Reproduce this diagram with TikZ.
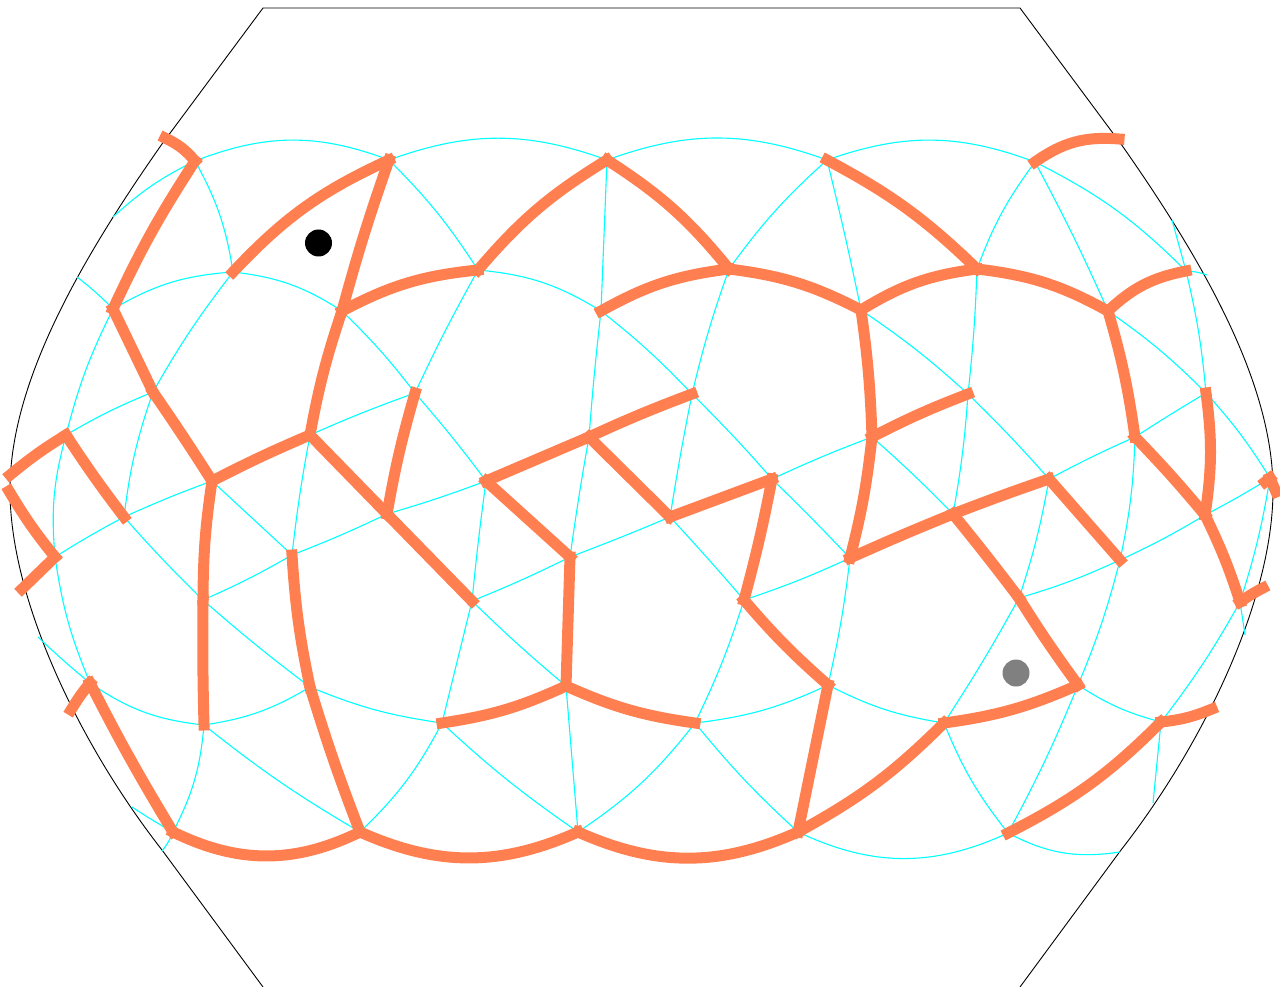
\documentclass[tikz,border=0pt]{standalone}
\definecolor{coral}{HTML}{FF7F50}
\definecolor{netcyan}{HTML}{00FFFF}
\tikzset{
  hull/.style={draw=black,line width=0.9pt,line join=round},
  net/.style={draw=netcyan,line width=1.1pt},
  wall/.style={draw=coral,line width=11pt,line cap=rect},
  dot/.style={circle,inner sep=0pt,minimum size=27pt}
}
\begin{document}
\begin{tikzpicture}[x=1pt,y=-1pt]
\useasboundingbox (0,0) rectangle (1280,987);
\foreach \n/\x/\y in {
 A1/195/161,A2/389/160,A3/607/160,A4/827/160,A5/1035/162,
 B1/233/272,B2/478/270,B3/729/269,B4/977/269,B5/1186/271,
 C1/113/309,C2/342/311,C3/601/311,C4/861/310,C5/1108/311,
 D1/153/392,D2/415/393,D3/692/394,D4/968/394,D5/1206/393,
 E1/66/435,E2/310/435,E3/589/437,E4/872/437,E5/1135/437,
 F1/212/481,F2/486/481,F3/772/479,F4/1049/479,F5/1270/478,
 G1/124/517,G2/387/514,G3/670/517,G4/953/514,G5/1205/515,
 H1/55/557,H2/292/555,H3/570/557,H4/850/558,H5/1120/560,
 I1/203/600,I2/472/601,I3/744/600,I4/1019/598,I5/1240/602,
 J1/90/683,J2/310/687,J3/566/686,J4/828/685,J5/1078/685,
 K1/204/725,K2/442/723,K3/695/723,K4/944/723,K5/1161/722,
 L1/173/832,L2/360/832,L3/578/832,L4/798/832,L5/1008/833,
 % free ends of orange lines
 oa/165/138,ob/1119/139,oc/10/475,od/9/491,oe/22/589,of/71/710,
 og/1212/709,oh/1263/588,oi/1276/492,oj/1265/482,
 % free ends of cyan lines
 ca/113/217,cb/77/277,cc/38/637,cd/132/807,ce/162/851,cf/1120/852,
 cg/1153/803,ch/1245/635,ci/1172/220,cj/1207/275
}{\coordinate (\n) at (\x,\y);}
% outer outline
\draw[hull] (263,987) -- (162,850) .. controls (80,745) and (10,600) .. (10,490)
  .. controls (10,390) and (70,275) .. (162,144) -- (263,8) -- (1020,8) -- (1121,144)
  .. controls (1213,275) and (1273,390) .. (1273,490)
  .. controls (1273,600) and (1203,745) .. (1121,850) -- (1020,987);
% cyan net
\foreach \a/\b/\t in {
 ca/A1/8,A1/A2/21,A2/A3/20,A3/A4/20,A4/A5/20,A5/B5/9,B5/cj/8,ci/B5/0,B5/D5/4,
 cb/C1/4,C1/B1/13,B1/C2/13,B2/C3/13,C2/D2/4,D2/F2/2,A1/B1/10,A2/B2/6,B2/D2/-2,
 B1/D1/-4,D1/G1/-6,C1/E1/-6,E1/H1/-10,H1/J1/-7,cc/J1/-2,J1/K1/-14,K1/J2/-11,
 K1/L1/11,L1/ce/8,cd/L1/-2,K1/L2/-4,L2/K2/-9,K2/L3/-4,L3/K3/-9,K3/L4/-4,L4/L5/-25,
 L5/cf/-18,K4/L5/-8,L5/J5/-3,J5/K5/-9,K5/cg/0,K5/I5/-4,I5/ch/0,I5/F5/-4,H5/J5/4,
 I4/H5/-4,H5/G5/-3,G5/F5/-2,D5/F5/5,C5/D5/5,E5/D5/1,F4/E5/2,E5/H5/5,F4/I4/4,I4/K4/2,
 G4/D4/-3,D4/B4/-2,B4/A5/8,A5/C5/2,D4/F4/2,C4/D4/4,A4/C4/1,A4/B3/-6,B3/D3/-3,D3/C3/-4,
 D3/F3/2,F3/E4/2,E4/G4/2,F3/H4/1,H4/J4/3,I3/H4/-3,J4/K3/9,K3/I3/-4,J4/K4/-9,G3/I3/1,
 D3/G3/-1,A3/C3/0,C3/E3/-1,E3/H3/-1,H3/G3/-1,I2/H3/-2,I2/K2/0,I2/J3/-2,J3/L3/0,F2/I2/-1,
 G2/F2/-2,H2/G2/-2,I1/H2/-3,E2/H2/-2,E2/D2/2,G1/F1/2,H1/G1/2,F1/H2/0,G1/I1/-2,I1/J2/-2,
 J2/K2/-7,E1/D1/4}
 {\draw[net] (\a) to[bend left=\t] (\b);}
% orange walls
\foreach \a/\b/\t in {
 A1/oa/-12,A1/C1/-4,C1/D1/0,D1/F1/1,F1/E2/2,E2/C2/4,C2/A2/2,B1/A2/11,C2/B2/11,B2/A3/9,
 A3/B3/9,C3/B3/11,B3/C4/10,C4/B4/12,B4/C5/11,C5/B5/16,A4/B4/8,A5/ob/20,C4/E4/3,E4/H4/4,
 E4/D4/3,H4/G4/1,G4/F4/1,F4/H5/0,G4/I4/1,I4/J5/-2,K4/J5/-8,K4/L4/8,L4/J4/0,J4/I3/4,
 I3/F3/-2,F3/G3/0,G3/E3/0,E3/F2/0,E3/D3/2,F2/H3/0,H3/J3/0,K2/J3/-8,J3/K3/-8,
 E2/G2/0,G2/I2/0,D2/G2/-3,F1/I1/-4,I1/K1/-1,H2/J2/-4,J2/L2/-2,J1/L1/-2,J1/of/-4,
 L1/L2/-26,L2/L3/-24,L3/L4/-24,L5/K5/-9,K5/og/-8,C5/E5/4,E5/G5/2,D5/G5/8,G5/I5/4,
 I5/oh/4,E1/oc/-4,E1/G1/-2,od/H1/-4,H1/oe/0,F5/oi/0,F5/oj/0}
 {\draw[wall] (\a) to[bend left=\t] (\b);}
% position markers
\node[dot,fill=black] (mk1) at (318.5,243) {};
\node[dot,fill=gray] (mk2) at (1016,673) {};
\end{tikzpicture}
\end{document}
